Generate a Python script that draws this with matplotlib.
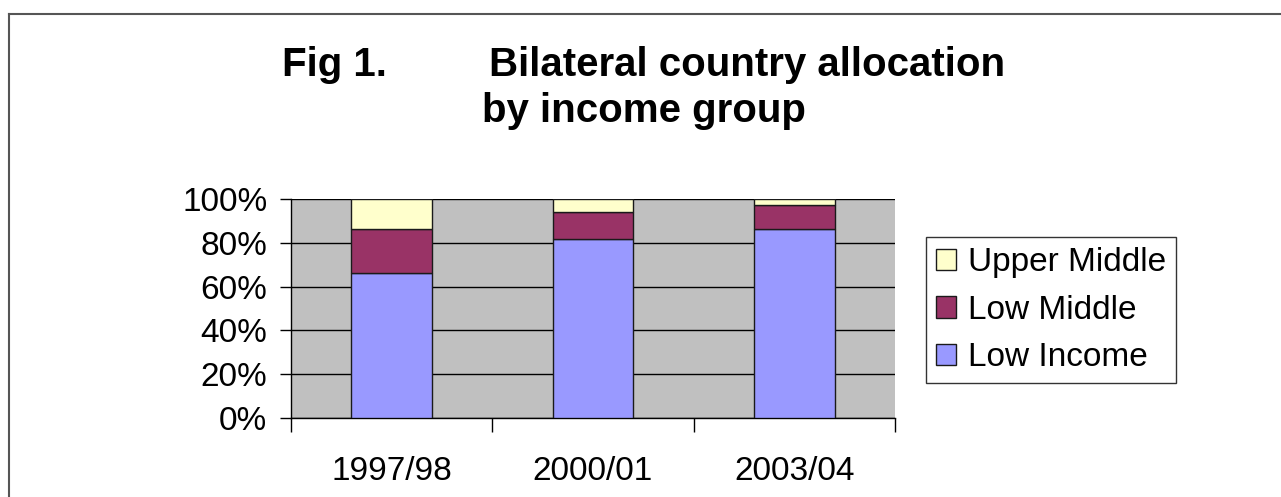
import matplotlib
matplotlib.use("Agg")
import matplotlib.pyplot as plt
from matplotlib.lines import Line2D
import numpy as np

years = ["1997/98", "2000/01", "2003/04"]
low_income = [66.2, 81.6, 86.4]
low_middle = [20.2, 12.3, 10.7]
upper_middle = [13.6, 6.1, 2.9]
series_names = ["Low Income", "Low Middle", "Upper Middle"]
series_colors = ["#9999FF", "#993366", "#FFFFCC"]
y_ticks = [0, 20, 40, 60, 80, 100]

plt.rcParams["font.family"] = ["Liberation Sans", "DejaVu Sans"]

fig = plt.figure(figsize=(12.81, 4.97), dpi=100, facecolor="white")
ax = fig.add_axes([291 / 1281, 1 - 418 / 497, 604 / 1281, 219 / 497])
ax.set_facecolor("#C0C0C0")

x = np.arange(len(years))
bottom = np.zeros(len(years))
bars = []
for vals, name, col in zip([low_income, low_middle, upper_middle], series_names, series_colors):
    b = ax.bar(x, vals, width=0.4, bottom=bottom, color=col, edgecolor="#1a1a1a",
               linewidth=1.0, label=name, zorder=3)
    bars.append(b)
    bottom += np.array(vals)

ax.set_xlim(-0.5, 2.5)
ax.set_ylim(0, 100)
ax.set_yticks(y_ticks)
ax.set_yticklabels([f"{v}%" for v in y_ticks], fontsize=24)
ax.yaxis.grid(True, color="black", linewidth=1.0, zorder=1)
ax.set_axisbelow(True)

ax.set_xticks([-0.5, 0.5, 1.5, 2.5])
ax.set_xticklabels([])
ax.set_xticks(x, minor=True)
ax.set_xticklabels(years, minor=True, fontsize=24)
ax.tick_params(axis="x", which="major", direction="out", length=10, width=1, color="black")
ax.tick_params(axis="x", which="minor", length=0, pad=27)
ax.tick_params(axis="y", direction="out", length=8, width=1, pad=9)

for s in ["top", "right"]:
    ax.spines[s].set_visible(False)
for s in ["left", "bottom"]:
    ax.spines[s].set_color("black")
    ax.spines[s].set_linewidth(1)

handles = [bars[2], bars[1], bars[0]]
leg = fig.legend(handles=[h.patches[0] for h in handles],
                 labels=[series_names[2], series_names[1], series_names[0]],
                 loc="upper left", bbox_to_anchor=(926 / 1281, 1 - 237 / 497),
                 fontsize=24, frameon=True, fancybox=False, shadow=False,
                 handlelength=0.6, handleheight=0.6, handletextpad=0.35,
                 labelspacing=0.5, borderpad=0.3, borderaxespad=0)
leg.get_frame().set_edgecolor("black")
leg.get_frame().set_linewidth(1)

fig.text(282 / 1281, 1 - 76 / 497, "Fig 1.", fontsize=29, fontweight="bold",
         ha="left", va="baseline")
fig.text(489 / 1281, 1 - 76 / 497, "Bilateral country allocation", fontsize=29,
         fontweight="bold", ha="left", va="baseline")
fig.text(644 / 1281, 1 - 122 / 497, "by income group", fontsize=29,
         fontweight="bold", ha="center", va="baseline")

# outer chart frame (runs off the right and bottom edges)
fig.add_artist(Line2D([9 / 1281, 9 / 1281], [0, 1 - 14 / 497], transform=fig.transFigure,
                      color="#555555", linewidth=1.5))
fig.add_artist(Line2D([9 / 1281, 1], [1 - 14 / 497, 1 - 14 / 497], transform=fig.transFigure,
                      color="#555555", linewidth=1.5))

fig.savefig("out.png", dpi=100)
